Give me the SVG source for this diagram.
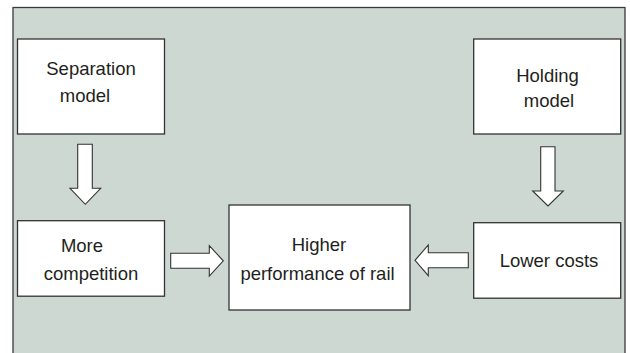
<svg xmlns="http://www.w3.org/2000/svg" width="630" height="353" viewBox="0 0 630 353">
<style>
.panel{fill:#cdd8d3;stroke:#3a3a3a;stroke-width:1.3}
.box{fill:#ffffff;stroke:#333333;stroke-width:1.3}
.arr{fill:#ffffff;stroke:#333333;stroke-width:1.1;stroke-linejoin:miter}
text{font-family:"Liberation Sans",Arial,Helvetica,sans-serif;font-size:18.5px;fill:#231f20;text-anchor:middle}
</style>
<rect width="630" height="353" fill="#ffffff"/>
<rect class="panel" x="13" y="7.5" width="612" height="360"/>
<g id="separation">
<rect class="box" x="17.5" y="39" width="147" height="95"/>
<text x="91" y="75">Separation</text>
<text x="85" y="102">model</text>
</g>
<g id="holding">
<rect class="box" x="473.7" y="39" width="147" height="95"/>
<text x="547.5" y="81.5">Holding</text>
<text x="549" y="107">model</text>
</g>
<g id="competition">
<rect class="box" x="17.5" y="220.7" width="147" height="75.5"/>
<text x="82" y="251.5">More</text>
<text x="91" y="280">competition</text>
</g>
<g id="performance">
<rect class="box" x="229" y="205" width="181" height="105"/>
<text x="319" y="251">Higher</text>
<text x="317.5" y="279.5">performance of rail</text>
</g>
<g id="costs">
<rect class="box" x="473.7" y="222.7" width="147" height="75.5"/>
<text x="549" y="267.3">Lower costs</text>
</g>
<g id="connectors">
<polygon class="arr" points="77.7,144.3 92.3,144.3 92.3,188.3 100.7,188.3 85.3,204.3 70,188.3 77.7,188.3"/>
<polygon class="arr" points="540.7,146.7 555,146.7 555,191 563.3,191 548,206 532.7,191 540.7,191"/>
<polygon class="arr" points="170.7,253.3 209.3,253.3 209.3,245.7 223.3,260.8 209.3,276 209.3,268.3 170.7,268.3"/>
<polygon class="arr" points="468.3,252.7 428.3,252.7 428.3,245 415,260.3 428.3,275.7 428.3,267.7 468.3,267.7"/>
</g>
</svg>
